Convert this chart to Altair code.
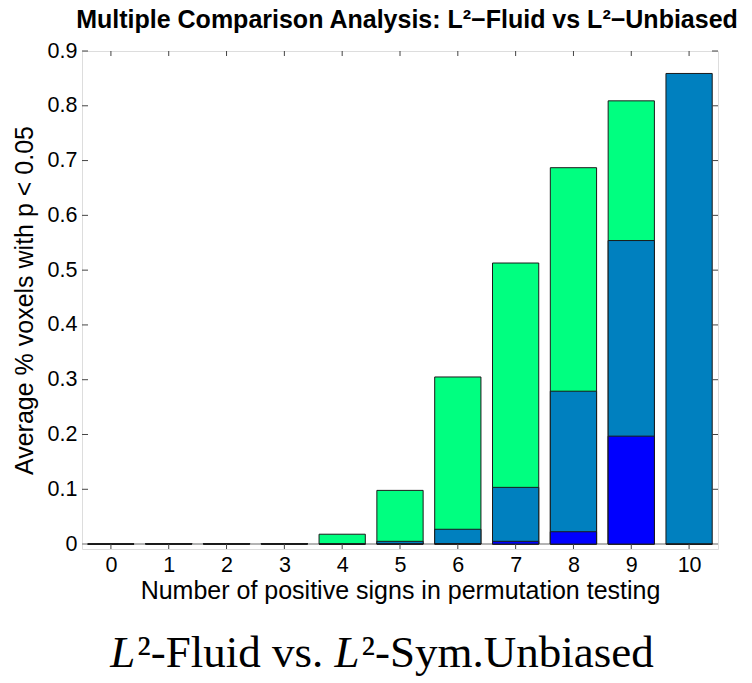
import altair as alt
import pandas as pd

# ---- data ----
positions = [0, 1, 2, 3, 4, 5, 6, 7, 8, 9, 10]
green_vals = [0.0, 0.001, 0.001, 0.001, 0.018, 0.098, 0.305, 0.513, 0.687, 0.809, 0.0]
teal_vals = [0.0, 0.001, 0.001, 0.001, 0.0, 0.005, 0.027, 0.1035, 0.279, 0.554, 0.859]
blue_vals = [0.0, 0.0, 0.0, 0.0, 0.0, 0.0005, 0.001, 0.005, 0.0225, 0.197, 0.0]
x_ticks = [0, 1, 2, 3, 4, 5, 6, 7, 8, 9, 10]
y_ticks = [0.0, 0.1, 0.2, 0.3, 0.4, 0.5, 0.6, 0.7, 0.8, 0.9]

title_text = "Multiple Comparison Analysis: L\u00b2\u2212Fluid vs L\u00b2\u2212Unbiased"
x_title = "Number of positive signs in permutation testing"
y_title = "Average % voxels with p < 0.05"
# caption pieces: (text, italic?)
caption_parts = [("L", True), ("\u00b2-Fluid vs. ", False), ("L", True),
                 ("\u00b2-Sym.Unbiased", False)]

W, H = 636, 498
XDOM = [-0.5, 10.5]
YDOM = [-0.009, 0.9]
FONT = "Liberation Sans"
SERIF = "Liberation Serif"

xs = alt.Scale(domain=XDOM, nice=False, zero=False)
ys = alt.Scale(domain=YDOM, nice=False, zero=False)

x_axis = alt.Axis(values=x_ticks, title=x_title, tickSize=0, domain=False, grid=False,
                  labelFontSize=21.5, labelFont=FONT, labelColor="black", labelPadding=5,
                  titleFontSize=25, titleFont=FONT, titleFontWeight="normal",
                  titleColor="black", titlePadding=3, labelFlush=False)
y_axis = alt.Axis(values=y_ticks, title=y_title, tickSize=0, domain=False, grid=False,
                  format=".1~f", labelFontSize=21.5, labelFont=FONT, labelColor="black",
                  labelPadding=5, titleFontSize=25, titleFont=FONT,
                  titleFontWeight="normal", titleColor="black", titlePadding=10,
                  labelFlush=False)


def X(field):
    return alt.X(field, scale=xs, axis=x_axis)


def Y(field):
    return alt.Y(field, scale=ys, axis=y_axis)


def bars(vals, color):
    df = pd.DataFrame({"pos": positions, "val": vals})
    base = alt.Chart(df).transform_calculate(
        left="datum.pos - 0.4", right="datum.pos + 0.4", zero="0"
    )
    return base.mark_bar(color=color, stroke="#1a1a1a", strokeWidth=1,
                         opacity=1).encode(x=X("left:Q"), x2="right:Q",
                                           y=Y("val:Q"), y2="zero:Q")


baseline_df = pd.DataFrame({"a": [XDOM[0]], "b": [XDOM[1]], "y": [0.0]})
baseline = alt.Chart(baseline_df).mark_rule(color="#9a9a9a", strokeWidth=1.5).encode(
    x=X("a:Q"), x2="b:Q", y=Y("y:Q"))

xt = pd.DataFrame({"t": x_ticks})
yt = pd.DataFrame({"t": y_ticks[1:]})
tick_color = "#444"
xt_bottom = alt.Chart(xt).mark_rule(color=tick_color, strokeWidth=1).encode(
    x=X("t:Q"), y=alt.value(H), y2=alt.value(H - 5))
xt_top = alt.Chart(xt).mark_rule(color=tick_color, strokeWidth=1).encode(
    x=X("t:Q"), y=alt.value(0), y2=alt.value(5))
yt_left = alt.Chart(yt).mark_rule(color=tick_color, strokeWidth=1).encode(
    y=Y("t:Q"), x=alt.value(0), x2=alt.value(6))
yt_right = alt.Chart(yt).mark_rule(color=tick_color, strokeWidth=1).encode(
    y=Y("t:Q"), x=alt.value(W), x2=alt.value(W - 6))

# caption laid out piece by piece (Times-metric advance widths, per 1000 em)
ADV = {"L_it": 556, "\u00b2": 300, "-": 333, "F": 556, "l": 278, "u": 500, "i": 278,
       "d": 500, " ": 250, "v": 500, "s": 389, ".": 250, "S": 556, "y": 500,
       "m": 778, "U": 722, "n": 500, "b": 500, "a": 444, "e": 444}
CAP_SIZE = 45


def piece_width(txt, italic):
    if italic:
        return ADV["L_it"] * CAP_SIZE / 1000
    return sum(ADV.get(ch, 500) for ch in txt) * CAP_SIZE / 1000


total_w = sum(piece_width(t, it) for t, it in caption_parts)
cap_center = W / 2 - 20
cursor = cap_center - total_w / 2
cap_layers = []
for txt, it in caption_parts:
    cap_layers.append(
        alt.Chart(pd.DataFrame({"c": [txt]})).mark_text(
            font=SERIF, fontSize=CAP_SIZE, color="black", align="left",
            baseline="alphabetic", fontStyle="italic" if it else "normal"
        ).encode(text="c:N", x=alt.value(cursor), y=alt.value(H + 118))
    )
    cursor += piece_width(txt, it) + (2 if it else 0)

chart = alt.layer(
    baseline,
    bars(green_vals, "#00FF80"),
    bars(teal_vals, "#0080BF"),
    bars(blue_vals, "#0000FF"),
    xt_bottom, xt_top, yt_left, yt_right, *cap_layers,
).properties(
    width=W, height=H,
    title=alt.TitleParams(title_text, font=FONT, fontSize=25, fontWeight="bold",
                          color="black", anchor="middle", offset=7, dx=7),
    autosize=alt.AutoSizeParams(type="none"),
    padding={"left": 82, "top": 51, "right": 34, "bottom": 134},
).configure_view(stroke="#333", strokeWidth=1.2).configure(background="white")

chart.save("out.html", embed_options={"renderer": "svg", "actions": False})
